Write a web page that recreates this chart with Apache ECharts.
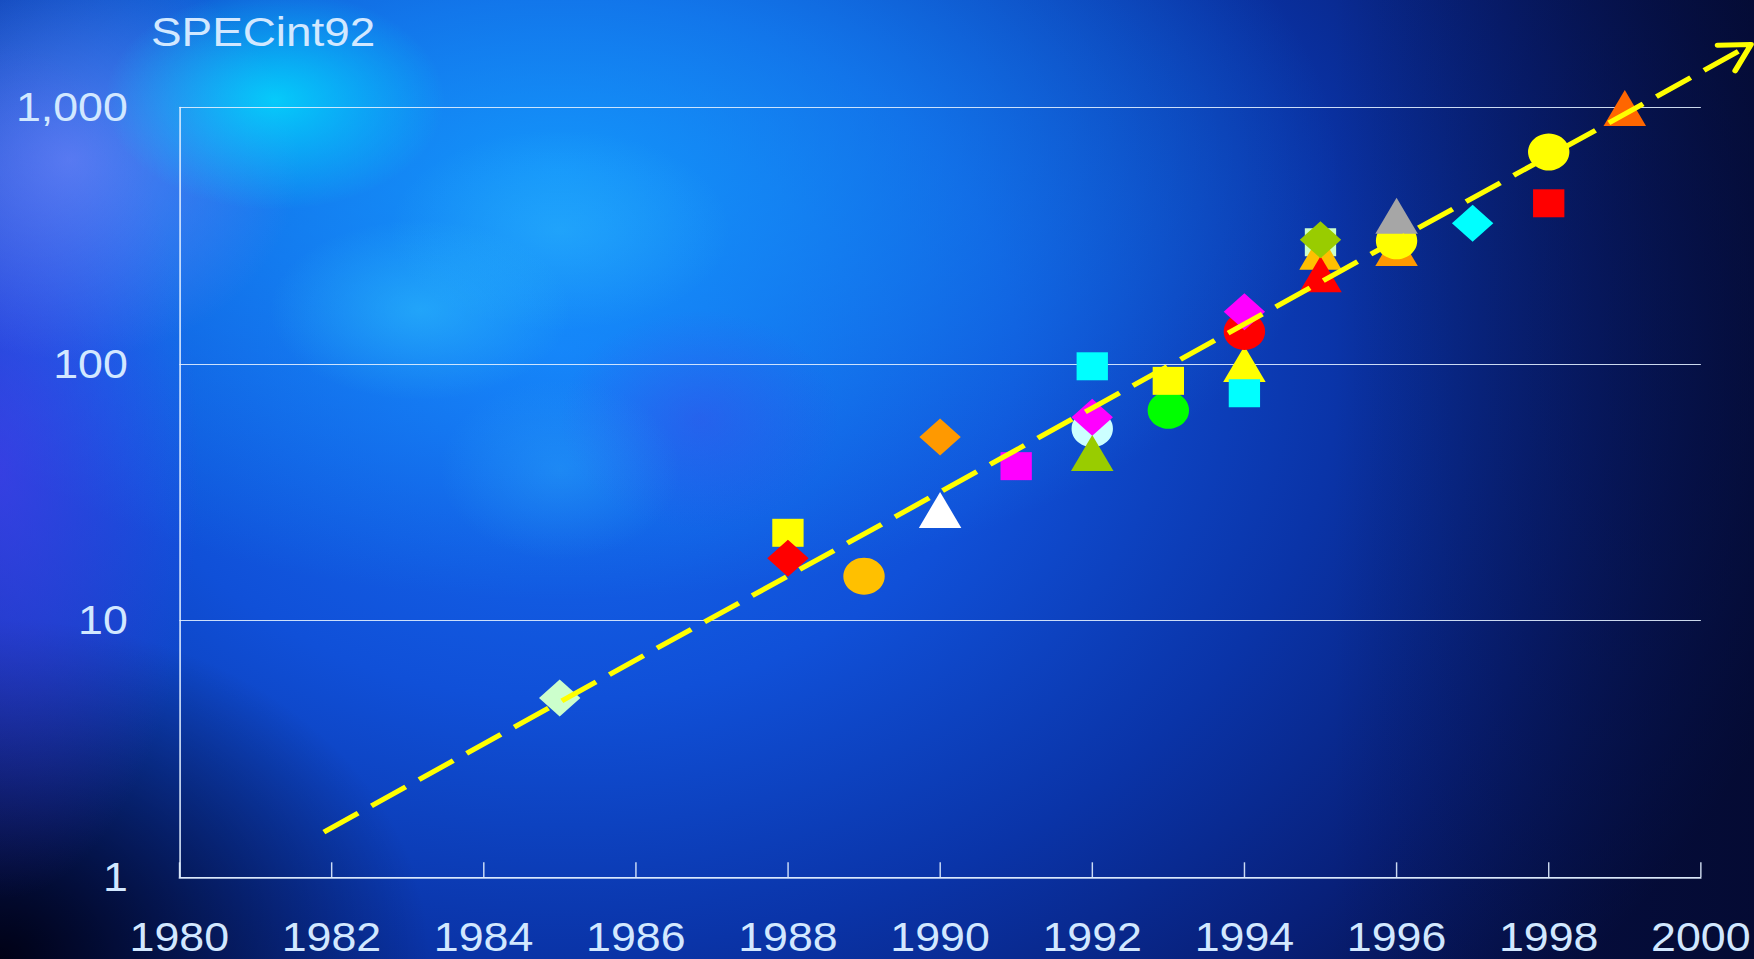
<!DOCTYPE html>
<html>
<head>
<meta charset="utf-8">
<script src="https://cdn.jsdelivr.net/npm/echarts@6/dist/echarts.min.js"></script>
<style>
  html, body { margin: 0; padding: 0; }
  body {
    width: 1754px; height: 959px; overflow: hidden;
    background:
      radial-gradient(ellipse 170px 110px at 275px 100px, rgba(0,230,255,0.75), rgba(0,230,255,0) 100%),
      radial-gradient(ellipse 150px 90px at 420px 310px, rgba(50,205,255,0.45), rgba(50,205,255,0) 100%),
      radial-gradient(ellipse 170px 100px at 560px 230px, rgba(50,195,255,0.4), rgba(50,195,255,0) 100%),
      radial-gradient(ellipse 120px 90px at 560px 470px, rgba(50,185,255,0.3), rgba(50,185,255,0) 100%),
      radial-gradient(ellipse 140px 110px at 700px 420px, rgba(70,60,230,0.35), rgba(70,60,230,0) 100%),
      radial-gradient(ellipse 230px 200px at 70px 160px, rgba(130,140,255,0.6), rgba(130,140,255,0) 100%),
      radial-gradient(ellipse 200px 430px at 0px 470px, rgba(80,60,245,0.6), rgba(80,60,245,0) 100%),
      radial-gradient(ellipse 430px 340px at 0px 959px, rgba(0,0,18,0.97), rgba(0,0,18,0) 100%),
      radial-gradient(ellipse 780px 430px at 560px 170px, rgba(20,160,255,0.8), rgba(20,160,255,0) 100%),
      linear-gradient(to left, rgba(4,8,40,0.6) 0%, rgba(4,8,40,0) 24%),
      radial-gradient(ellipse 1300px 1000px at 560px 350px, #1670f5 0%, #1050d8 35%, #0a34a8 60%, #08207a 80%, #050f45 100%);
  }
  #chart {
    width: 1568px; height: 959px;
    transform: scaleX(1.11862); transform-origin: 0 0;
  }
</style>
</head>
<body>
<div id="chart"></div>
<script>
// ---- data ----
const pointYears  = [1985, 1988, 1988, 1989, 1990, 1990, 1991, 1992, 1992, 1992, 1992, 1993, 1993,
                     1994, 1994, 1994, 1994, 1995, 1995, 1995, 1995, 1996, 1996, 1996, 1997, 1998, 1998, 1999];
const pointValues = [5.0, 22, 17.5, 14.9, 52, 27, 40, 98, 56, 62, 45, 66, 86,
                     100, 134, 160, 77, 298, 274, 224, 305, 283, 302, 378, 354, 670, 423, 995];
// marker styles (one per point)
const pointShapes = ['diamond','rect','diamond','circle','diamond','triangle','rect','rect','circle','diamond','triangle','circle','rect',
                     'triangle','circle','diamond','rect','rect','triangle','triangle','diamond','triangle','circle','triangle','diamond','circle','rect','triangle'];
const pointColors = ['#CCFFCC','#FFFF00','#FF0000','#FFC000','#FF9900','#FFFFFF','#FF00FF','#00FFFF','#CCFFFF','#FF00FF','#99CC00','#00FF00','#FFFF00',
                     '#FFFF00','#FF0000','#FF00FF','#00FFFF','#CCFFCC','#FFC000','#FF0000','#99CC00','#FF9900','#FFFF00','#A6A6A6','#00FFFF','#FFFF00','#FF0000','#FF6600'];
// trend line (start, arrow tip)
const trendYears  = [1981.9, 2000.66];
const trendValues = [1.5, 1760];
// axes
const xTickYears  = [1980, 1982, 1984, 1986, 1988, 1990, 1992, 1994, 1996, 1998, 2000];
const yTickValues = [1, 10, 100, 1000];
const yTitle = 'SPECint92';

const textColor = '#d2e8ff';
const lineColor = 'rgba(225,238,255,0.9)';
const fontFam = '"Liberation Sans", Arial, Helvetica, sans-serif';
const shapeSize = { diamond: [37, 37], rect: [28, 28], circle: [37, 37], triangle: [38, 36] };

const scatterData = pointYears.map((y, i) => ({
  value: [y, pointValues[i]],
  symbol: pointShapes[i],
  symbolSize: shapeSize[pointShapes[i]],
  itemStyle: { color: pointColors[i], opacity: 1 }
}));

const chart = echarts.init(document.getElementById('chart'), null, { renderer: 'svg', width: 1568, height: 959 });
chart.setOption({
  animation: false,
  backgroundColor: 'transparent',
  title: {
    text: yTitle, left: 135, top: 11, padding: 0,
    textStyle: { color: textColor, fontSize: 41, fontWeight: 'normal', fontFamily: fontFam }
  },
  grid: { left: 160.3, right: 45.3, top: 107.4, bottom: 81.7, containLabel: false },
  xAxis: {
    type: 'value', min: xTickYears[0], max: xTickYears[xTickYears.length - 1], interval: 2,
    axisLine: { show: true, lineStyle: { color: lineColor, width: 1.5 } },
    axisTick: { show: true, inside: true, length: 15, lineStyle: { color: lineColor, width: 1.3 } },
    splitLine: { show: false },
    axisLabel: { color: textColor, fontSize: 40, fontFamily: fontFam, margin: 40, formatter: v => String(Math.round(v)) }
  },
  yAxis: {
    type: 'log', logBase: 10, min: yTickValues[0], max: yTickValues[yTickValues.length - 1],
    axisLine: { show: true, lineStyle: { color: lineColor, width: 1.5 } },
    axisTick: { show: false },
    splitLine: { show: true, lineStyle: { color: lineColor, width: 1.2 } },
    axisLabel: {
      color: textColor, fontSize: 40, fontFamily: fontFam, margin: 46,
      formatter: v => Math.round(v).toLocaleString('en-US')
    }
  },
  series: [
    {
      type: 'scatter', data: scatterData, z: 3, silent: true, itemStyle: { opacity: 1 }
    },
    {
      type: 'custom', coordinateSystem: 'cartesian2d', clip: false, z: 11, silent: true,
      data: [[trendYears[0], trendValues[0], trendYears[1], trendValues[1]]],
      renderItem: function (params, api) {
        const p0 = api.coord([api.value(0), api.value(1)]);
        const p1 = api.coord([api.value(2), api.value(3)]);
        const back = Math.atan2(p0[1] - p1[1], p0[0] - p1[0]);
        const L = 30, a = 30 * Math.PI / 180;
        const w1 = [p1[0] + L * Math.cos(back + a), p1[1] + L * Math.sin(back + a)];
        const w2 = [p1[0] + L * Math.cos(back - a), p1[1] + L * Math.sin(back - a)];
        return {
          type: 'group',
          children: [
            {
              type: 'polyline',
              shape: { points: [p0, p1] },
              style: { stroke: '#FFFF00', lineWidth: 5, fill: null, lineDash: [36, 14], lineCap: 'butt' }
            },
            {
              type: 'polyline',
              shape: { points: [w1, p1, w2] },
              style: { stroke: '#FFFF00', lineWidth: 5, fill: null, lineCap: 'round', lineJoin: 'round' }
            }
          ]
        };
      }
    }
  ]
});
</script>
</body>
</html>
